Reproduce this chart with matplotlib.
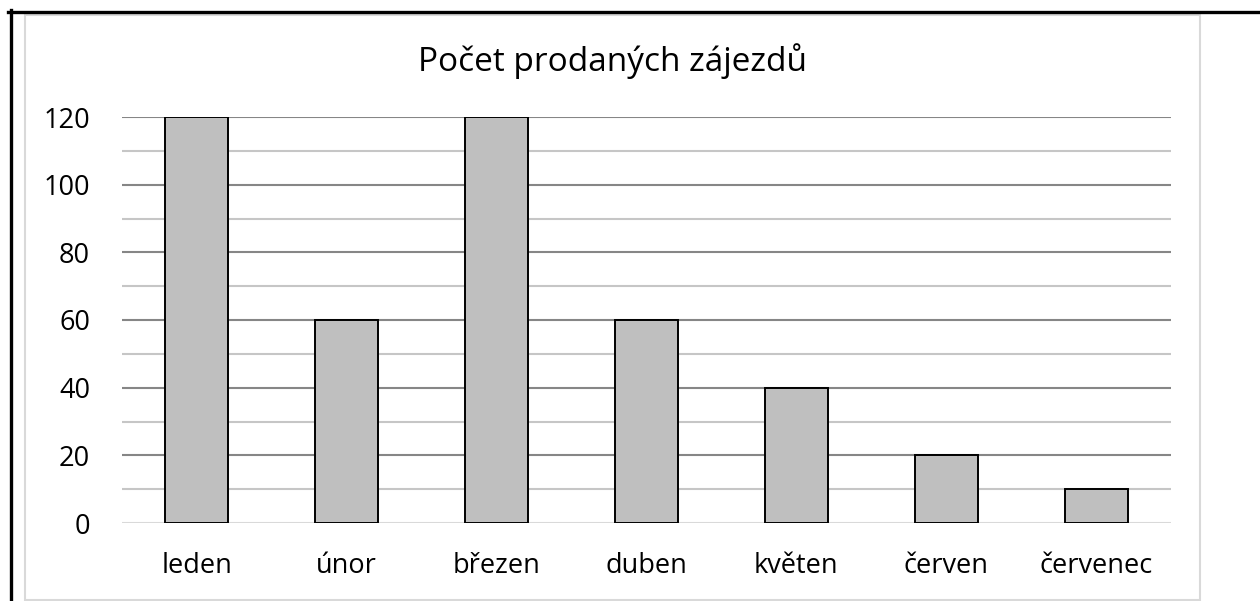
import numpy as np
import matplotlib.pyplot as plt
from matplotlib.lines import Line2D
from matplotlib.patches import Rectangle

plt.rcParams['font.family'] = ['Open Sans', 'DejaVu Sans']

# data
months = ['leden', 'únor', 'březen', 'duben', 'květen', 'červen', 'červenec']
sales = [120, 60, 120, 60, 40, 20, 10]
major_ticks = [0, 20, 40, 60, 80, 100, 120]
minor_ticks = [10, 30, 50, 70, 90, 110]

fig = plt.figure(figsize=(12.6, 6.01), dpi=100)
W, H = 1260, 601

# chart area frame and black page borders
fig.patches.append(Rectangle((25 / W, 1 - 600 / H), 1175 / W, 585 / H,
                             transform=fig.transFigure, fill=False,
                             edgecolor='#d9d9d9', linewidth=1.5))
fig.lines.append(Line2D([8 / W, 1], [1 - 11.5 / H, 1 - 11.5 / H],
                        transform=fig.transFigure, color='black', linewidth=2.4))
fig.lines.append(Line2D([10.5 / W, 10.5 / W], [0, 1 - 10 / H],
                        transform=fig.transFigure, color='black', linewidth=2.4))

ax = fig.add_axes([122 / W, 1 - 523 / H, (1171 - 122) / W, (523 - 117) / H])
x = np.arange(len(months))
ax.bar(x, sales, width=0.42, color='#bfbfbf', edgecolor='black',
       linewidth=1.4, zorder=3)

for v in minor_ticks:
    ax.axhline(v, color='#c6c6c6', linewidth=1.5, zorder=1)
for v in major_ticks[1:]:
    ax.axhline(v, color='#868686', linewidth=1.5, zorder=1)
ax.axhline(0, color='#d9d9d9', linewidth=1.5, zorder=2)

ax.set_xlim(-0.5, len(months) - 0.5)
ax.set_ylim(0, 120)
ax.set_yticks(major_ticks)
ax.set_xticks(x, months)
ax.tick_params(axis='both', length=0, labelsize=19.5)
ax.tick_params(axis='y', pad=23)
ax.tick_params(axis='x', pad=21)
for s in ax.spines.values():
    s.set_visible(False)

fig.text(612 / W, 1 - 61 / H, 'Počet prodaných zájezdů', ha='center',
         va='center', fontsize=24)

fig.savefig('out.png', dpi=100)
